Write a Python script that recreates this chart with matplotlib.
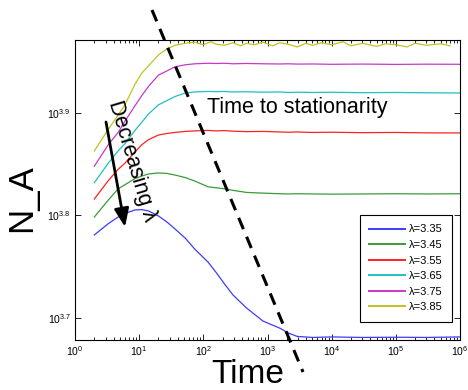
#!/usr/bin/env python3
"""N_A vs time for decreasing lambda, log-log, with time-to-stationarity guide."""

import matplotlib

matplotlib.use("Agg")
import matplotlib.pyplot as plt
from matplotlib.lines import Line2D
from matplotlib.ticker import NullLocator

plt.rcParams["font.family"] = ["Liberation Sans", "DejaVu Sans"]
plt.rcParams["mathtext.fontset"] = "custom"
plt.rcParams["mathtext.rm"] = "Liberation Sans"
plt.rcParams["mathtext.default"] = "regular"

# time grid (shared) and log10(N_A)
times = [2, 3.3, 4.7, 6, 8.6, 11, 14, 20, 27, 36, 52, 74, 118, 160, 215, 290,
         470, 850, 1560, 2100, 2900, 5000, 1e4, 3e4, 1e5, 3e5, 1e6]

log_n_335 = [3.781, 3.792, 3.7985, 3.802, 3.8054, 3.8057, 3.8044, 3.7995, 3.7937,
             3.787, 3.778, 3.767, 3.7546, 3.744, 3.733, 3.7224, 3.7098, 3.697,
             3.690, 3.6854, 3.682, 3.681, 3.6815, 3.681, 3.6812, 3.681, 3.6815]
log_n_345 = [3.7985, 3.815, 3.826, 3.830, 3.836, 3.8385, 3.8405, 3.8415, 3.841,
             3.8395, 3.837, 3.8335, 3.828, 3.827, 3.826, 3.8245, 3.8225, 3.8218,
             3.8212, 3.821, 3.8212, 3.821, 3.8208, 3.821, 3.8212, 3.821, 3.8212]
log_n_355 = [3.816, 3.834, 3.845, 3.851, 3.862, 3.869, 3.874, 3.8785, 3.880,
             3.881, 3.882, 3.8825, 3.883, 3.8825, 3.8828, 3.8822, 3.8818, 3.882,
             3.8815, 3.8812, 3.8815, 3.881, 3.8812, 3.8808, 3.881, 3.8806, 3.8805]
log_n_365 = [3.832, 3.851, 3.863, 3.870, 3.883, 3.891, 3.899, 3.908, 3.912,
             3.916, 3.9195, 3.9205, 3.921, 3.9208, 3.921, 3.9205, 3.9207, 3.9203,
             3.9205, 3.92, 3.9203, 3.92, 3.9202, 3.9198, 3.92, 3.9197, 3.9195]
log_n_375 = [3.848, 3.869, 3.881, 3.892, 3.907, 3.917, 3.926, 3.937, 3.941,
             3.945, 3.947, 3.948, 3.9485, 3.9483, 3.9485, 3.948, 3.9483, 3.948,
             3.9478, 3.948, 3.9477, 3.9478, 3.9475, 3.9477, 3.9474, 3.9476, 3.9475]

times_385 = [2, 3.3, 4.7, 6, 8.6, 11, 14, 20, 27, 36, 52, 74, 100, 130, 160, 215,
             290, 380, 470, 620, 850, 1200, 1560, 2100, 2900, 4000, 5000, 7000,
             1e4, 1.5e4, 2e4, 3e4, 5e4, 7e4, 1e5, 1.5e5, 2e5, 3e5, 5e5, 7e5]
log_n_385 = [3.863, 3.884, 3.898, 3.908, 3.928, 3.939, 3.946, 3.9566, 3.9624,
             3.966, 3.968, 3.969, 3.9665, 3.9695, 3.967, 3.966, 3.9685, 3.9655,
             3.968, 3.9665, 3.969, 3.9655, 3.9685, 3.967, 3.9645, 3.968, 3.966,
             3.9685, 3.9665, 3.9695, 3.9655, 3.968, 3.965, 3.9675, 3.9665,
             3.9645, 3.968, 3.966, 3.9675, 3.9655]

labels = ["λ=3.35", "λ=3.45", "λ=3.55", "λ=3.65", "λ=3.75", "λ=3.85"]
colors = ["#3c3cff", "#3a9a3a", "#ff2020", "#20c0c0", "#c838c8", "#c2c21e"]

y_ticks = [3.7, 3.8, 3.9]
x_ticks = [0, 1, 2, 3, 4, 5, 6]

W, H = 468, 390


def fx(px):
    return px / W


def fy(py):
    return 1 - py / H


fig = plt.figure(figsize=(4.68, 3.9), dpi=100)
ax = fig.add_axes([fx(75), fy(340), (460 - 75) / W, (340 - 40) / H])

series = [(times, log_n_335), (times, log_n_345), (times, log_n_355),
          (times, log_n_365), (times, log_n_375), (times_385, log_n_385)]
for (t, ln), c, lab in zip(series, colors, labels):
    ax.plot(t, [10 ** v for v in ln], color=c, lw=0.9, label=lab)

ax.set_xscale("log")
ax.set_yscale("log")
ax.set_xlim(1, 1e6)
ax.set_ylim(10 ** 3.6785, 10 ** 3.9712)
ax.set_xticks([10 ** e for e in x_ticks])
ax.set_xticklabels([f"$10^{{{e}}}$" for e in x_ticks])
ax.set_yticks([10 ** e for e in y_ticks])
ax.set_yticklabels([f"$10^{{{e}}}$" for e in y_ticks])
ax.yaxis.set_minor_locator(NullLocator())
ax.tick_params(which="both", direction="in", top=True, right=True,
               labelsize=7.5, width=0.6, colors="k")
ax.tick_params(which="major", length=4, pad=3)
ax.tick_params(which="minor", length=2)
for sp in ax.spines.values():
    sp.set_linewidth(0.8)

leg = ax.legend(loc="upper left", bbox_to_anchor=(fx(360), fy(215)),
                bbox_transform=fig.transFigure, borderaxespad=0, fontsize=8,
                fancybox=False, framealpha=1, edgecolor="k", handlelength=3.2,
                handletextpad=0.35, labelspacing=0.5, borderpad=0.85)
leg.get_frame().set_linewidth(0.8)
for ln in leg.get_lines():
    ln.set_linewidth(1.4)

# labels (reference has "Time" sitting right on the bottom edge)
fig.text(fx(22), fy(198), "N_A", fontsize=25, rotation=90, ha="center", va="center")
fig.text(fx(248), fy(383), "Time", fontsize=24, ha="center", va="baseline")

# annotations
fig.text(fx(207), fy(113), "Time to stationarity", fontsize=15.5, va="baseline")
fig.text(fx(132), fy(161), "Decreasing λ", fontsize=15.5, rotation=-73.3,
         ha="center", va="center", rotation_mode="anchor")
ax.annotate("", xy=(fx(125), fy(227)), xytext=(fx(106), fy(122)),
            xycoords="figure fraction", textcoords="figure fraction",
            arrowprops=dict(arrowstyle="-|>,head_length=0.55,head_width=0.22",
                            lw=2, color="k", mutation_scale=20,
                            shrinkA=0, shrinkB=0))
fig.add_artist(Line2D([fx(152), fx(303)], [fy(10), fy(372)],
                      transform=fig.transFigure, color="k", lw=2.2,
                      dashes=(4, 2.7)))

fig.savefig("out.png", dpi=100)
